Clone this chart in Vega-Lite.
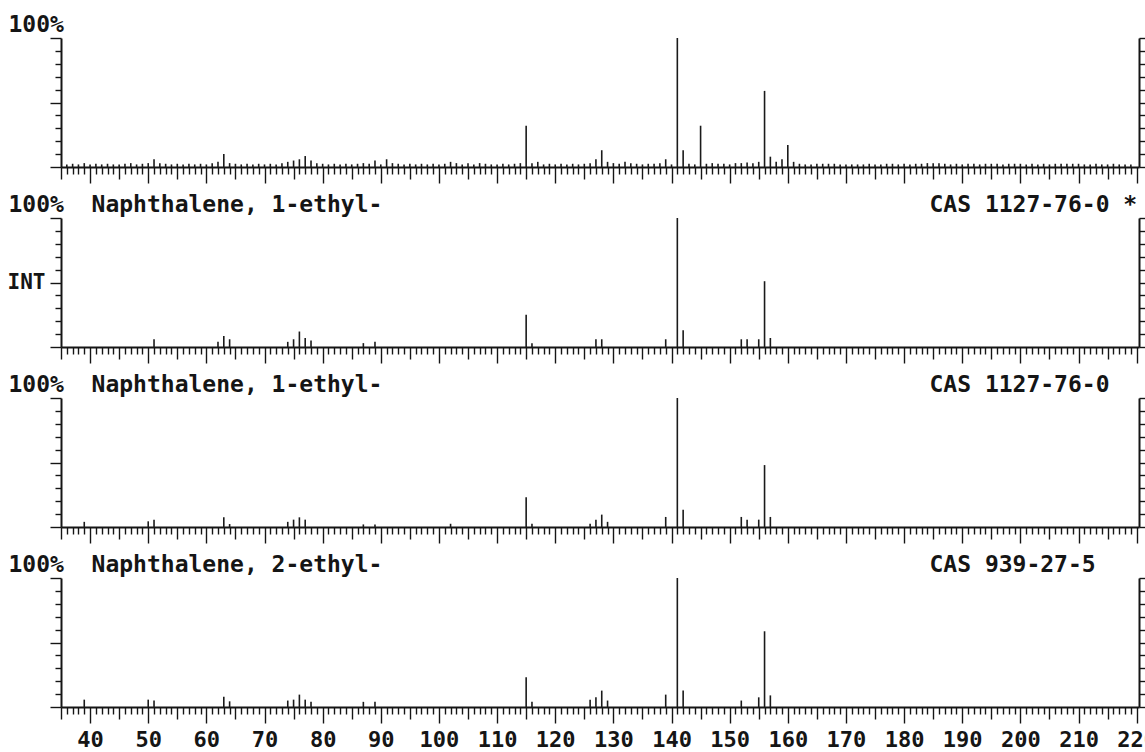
{
  "$schema": "https://vega.github.io/schema/vega-lite/v6.json",
  "background": "white",
  "padding": {"left": 7, "top": 13, "right": 0, "bottom": 0},
  "spacing": 51,
  "bounds": "flush",
  "config": {
    "view": {"stroke": null},
    "font": "DejaVu Sans Mono",
    "axis": {
      "grid": false,
      "domainColor": "#151515",
      "tickColor": "#151515",
      "labelColor": "#151515",
      "titleColor": "#151515",
      "labelFont": "DejaVu Sans Mono",
      "titleFont": "DejaVu Sans Mono",
      "labelFontWeight": "bold",
      "titleFontWeight": "bold",
      "domainWidth": 2,
      "tickWidth": 1.4
    }
  },
  "datasets": {
    "p1": [
      {"mz":36,"int":2},{"mz":37,"int":2.5},{"mz":38,"int":2},{"mz":39,"int":3},{"mz":40,"int":2},{"mz":41,"int":2.5},{"mz":42,"int":2},{"mz":43,"int":2.5},{"mz":44,"int":2},{"mz":45,"int":2},
      {"mz":46,"int":2.5},{"mz":47,"int":3},{"mz":48,"int":2},{"mz":49,"int":2.5},{"mz":50,"int":3},{"mz":51,"int":6},{"mz":52,"int":3},{"mz":53,"int":2.5},{"mz":54,"int":2},{"mz":55,"int":2.5},
      {"mz":56,"int":2},{"mz":57,"int":2.5},{"mz":58,"int":2},{"mz":59,"int":2.5},{"mz":60,"int":2},{"mz":61,"int":3},{"mz":62,"int":4},{"mz":63,"int":10},{"mz":64,"int":3},{"mz":65,"int":2.5},
      {"mz":66,"int":2},{"mz":67,"int":2.5},{"mz":68,"int":2},{"mz":69,"int":2.5},{"mz":70,"int":2},{"mz":71,"int":2.5},{"mz":72,"int":2},{"mz":73,"int":3},{"mz":74,"int":4},{"mz":75,"int":5},
      {"mz":76,"int":6},{"mz":77,"int":8.5},{"mz":78,"int":5},{"mz":79,"int":3},{"mz":80,"int":2.5},{"mz":81,"int":2},{"mz":82,"int":2.5},{"mz":83,"int":2},{"mz":84,"int":2.5},{"mz":85,"int":2},
      {"mz":86,"int":2.5},{"mz":87,"int":3},{"mz":88,"int":2.5},{"mz":89,"int":5},{"mz":90,"int":2},{"mz":91,"int":6},{"mz":92,"int":3},{"mz":93,"int":2.5},{"mz":94,"int":2},{"mz":95,"int":2.5},
      {"mz":96,"int":2},{"mz":97,"int":2.5},{"mz":98,"int":2},{"mz":99,"int":2.5},{"mz":100,"int":2},{"mz":101,"int":2.5},{"mz":102,"int":4},{"mz":103,"int":3},{"mz":104,"int":2},{"mz":105,"int":3},
      {"mz":106,"int":2},{"mz":107,"int":3},{"mz":108,"int":2.5},{"mz":109,"int":2},{"mz":110,"int":2},{"mz":111,"int":2.5},{"mz":112,"int":2},{"mz":113,"int":2.5},{"mz":114,"int":3},{"mz":115,"int":32},
      {"mz":116,"int":3},{"mz":117,"int":4},{"mz":118,"int":2},{"mz":119,"int":2.5},{"mz":120,"int":2},{"mz":121,"int":2.5},{"mz":122,"int":2},{"mz":123,"int":2.5},{"mz":124,"int":2},{"mz":125,"int":2.5},
      {"mz":126,"int":3},{"mz":127,"int":6},{"mz":128,"int":13},{"mz":129,"int":4},{"mz":130,"int":3},{"mz":131,"int":2.5},{"mz":132,"int":4},{"mz":133,"int":3},{"mz":134,"int":2.5},{"mz":135,"int":2},
      {"mz":136,"int":2.5},{"mz":137,"int":2.5},{"mz":138,"int":3},{"mz":139,"int":6},{"mz":140,"int":2},{"mz":141,"int":100},{"mz":142,"int":13},{"mz":143,"int":2.5},{"mz":144,"int":2},{"mz":145,"int":32},
      {"mz":146,"int":2.5},{"mz":147,"int":3},{"mz":148,"int":2.5},{"mz":149,"int":2.5},{"mz":150,"int":2},{"mz":151,"int":3},{"mz":152,"int":3},{"mz":153,"int":3.5},{"mz":154,"int":3},{"mz":155,"int":4},
      {"mz":156,"int":59},{"mz":157,"int":8},{"mz":158,"int":4},{"mz":159,"int":6},{"mz":160,"int":17},{"mz":161,"int":4},{"mz":162,"int":2.5},{"mz":163,"int":2},{"mz":164,"int":2},{"mz":165,"int":2.5},
      {"mz":166,"int":2.5},{"mz":167,"int":2.5},{"mz":168,"int":2.5},{"mz":169,"int":2},{"mz":170,"int":2},{"mz":171,"int":2},{"mz":172,"int":2},{"mz":173,"int":2},{"mz":174,"int":2.5},{"mz":175,"int":2},
      {"mz":176,"int":2},{"mz":177,"int":2.5},{"mz":178,"int":2.5},{"mz":179,"int":2},{"mz":180,"int":2.5},{"mz":181,"int":2},{"mz":182,"int":2.5},{"mz":183,"int":2.5},{"mz":184,"int":3},{"mz":185,"int":3},
      {"mz":186,"int":3},{"mz":187,"int":2.5},{"mz":188,"int":2},{"mz":189,"int":2.5},{"mz":190,"int":2},{"mz":191,"int":2.5},{"mz":192,"int":2.5},{"mz":193,"int":2},{"mz":194,"int":2.5},{"mz":195,"int":2.5},
      {"mz":196,"int":2.5},{"mz":197,"int":2},{"mz":198,"int":2.5},{"mz":199,"int":2.5},{"mz":200,"int":2.5},{"mz":201,"int":2},{"mz":202,"int":2.5},{"mz":203,"int":2},{"mz":204,"int":2.5},{"mz":205,"int":2},
      {"mz":206,"int":2.5},{"mz":207,"int":2.5},{"mz":208,"int":2.5},{"mz":209,"int":2.5},{"mz":210,"int":2.5},{"mz":211,"int":2},{"mz":212,"int":2},{"mz":213,"int":2.5},{"mz":214,"int":2},{"mz":215,"int":2},
      {"mz":216,"int":2.5},{"mz":217,"int":2},{"mz":218,"int":2},{"mz":219,"int":2}
    ],
    "p2": [
      {"mz":51,"int":6},{"mz":62,"int":4},{"mz":63,"int":8.5},{"mz":64,"int":6},{"mz":74,"int":4},{"mz":75,"int":6},{"mz":76,"int":12},{"mz":77,"int":7},{"mz":78,"int":5},{"mz":87,"int":3},{"mz":89,"int":4},
      {"mz":115,"int":25},{"mz":116,"int":3},{"mz":127,"int":6},{"mz":128,"int":6},{"mz":139,"int":6},{"mz":141,"int":100},{"mz":142,"int":13},{"mz":152,"int":6},{"mz":153,"int":6},{"mz":155,"int":6},{"mz":156,"int":51},{"mz":157,"int":7}
    ],
    "p3": [
      {"mz":39,"int":4},{"mz":50,"int":4.4},{"mz":51,"int":5.7},{"mz":63,"int":7.5},{"mz":64,"int":2.3},{"mz":74,"int":4},{"mz":75,"int":5.7},{"mz":76,"int":7.5},{"mz":77,"int":5.7},{"mz":87,"int":2},{"mz":89,"int":2},
      {"mz":102,"int":2.5},{"mz":115,"int":23},{"mz":116,"int":2.6},{"mz":126,"int":2.6},{"mz":127,"int":5.7},{"mz":128,"int":9.6},{"mz":129,"int":4},{"mz":139,"int":7.8},{"mz":141,"int":100},{"mz":142,"int":13.4},
      {"mz":152,"int":7.8},{"mz":153,"int":5.7},{"mz":155,"int":5.7},{"mz":156,"int":48},{"mz":157,"int":7.8}
    ],
    "p4": [
      {"mz":39,"int":5.7},{"mz":50,"int":5.7},{"mz":51,"int":5},{"mz":63,"int":8},{"mz":64,"int":4.4},{"mz":74,"int":5},{"mz":75,"int":5.7},{"mz":76,"int":9.6},{"mz":77,"int":5.7},{"mz":78,"int":4},{"mz":87,"int":4},{"mz":89,"int":4},
      {"mz":115,"int":23},{"mz":116,"int":4},{"mz":126,"int":5.7},{"mz":127,"int":7.5},{"mz":128,"int":12.7},{"mz":129,"int":5},{"mz":139,"int":9.6},{"mz":141,"int":100},{"mz":142,"int":12.7},
      {"mz":152,"int":5},{"mz":155,"int":7.5},{"mz":156,"int":58.7},{"mz":157,"int":9}
    ]
  },
  "vconcat": [
    {
      "width": 1078, "height": 129,
      "data": {"name": "p1"},
      "layer": [
        {
          "mark": {"type": "rule", "color": "#1a1a1a", "strokeWidth": 1.6},
          "encoding": {
            "x": {"field": "mz", "type": "quantitative", "scale": {"domain": [35, 220.4], "nice": false, "zero": false},
              "axis": {"orient": "bottom", "title": null, "labels": false, "domainWidth": 2,
                "values": [35,36,37,38,39,40,41,42,43,44,45,46,47,48,49,50,51,52,53,54,55,56,57,58,59,60,61,62,63,64,65,66,67,68,69,70,71,72,73,74,75,76,77,78,79,80,81,82,83,84,85,86,87,88,89,90,91,92,93,94,95,96,97,98,99,100,101,102,103,104,105,106,107,108,109,110,111,112,113,114,115,116,117,118,119,120,121,122,123,124,125,126,127,128,129,130,131,132,133,134,135,136,137,138,139,140,141,142,143,144,145,146,147,148,149,150,151,152,153,154,155,156,157,158,159,160,161,162,163,164,165,166,167,168,169,170,171,172,173,174,175,176,177,178,179,180,181,182,183,184,185,186,187,188,189,190,191,192,193,194,195,196,197,198,199,200,201,202,203,204,205,206,207,208,209,210,211,212,213,214,215,216,217,218,219,220],
                "tickSize": {"condition": [{"test": "datum.value % 10 === 0", "value": 16}, {"test": "datum.value % 5 === 0", "value": 12}], "value": 7}}},
            "y": {"field": "int", "type": "quantitative", "scale": {"domain": [0, 100], "nice": false},
              "axis": {"orient": "left", "values": [0,10,20,30,40,50,60,70,80,90,100], "labels": false,
                "tickSize": {"condition": {"test": "datum.value % 50 === 0", "value": 11}, "value": 6},
                "title": "100%", "titleAngle": 0, "titleAlign": "left", "titleBaseline": "alphabetic", "titleX": -53, "titleY": -7, "titleFontSize": 23}},
            "y2": {"datum": 0}
          }
        },
        {
          "mark": {"type": "rule", "opacity": 0},
          "encoding": {
            "y": {"field": "int", "type": "quantitative", "axis": {"orient": "right", "values": [0,10,20,30,40,50,60,70,80,90,100], "labels": false, "tickSize": 6, "title": null}},
            "y2": {"datum": 0}
          }
        }
      ],
      "resolve": {"axis": {"y": "independent"}}
    },
    {
      "width": 1078, "height": 129,
      "data": {"name": "p2"},
      "layer": [
        {
          "mark": {"type": "rule", "color": "#1a1a1a", "strokeWidth": 1.6},
          "encoding": {
            "x": {"field": "mz", "type": "quantitative", "scale": {"domain": [35, 220.4], "nice": false, "zero": false},
              "axis": {"orient": "bottom", "title": null, "labels": false, "domainWidth": 2,
                "values": [35,36,37,38,39,40,41,42,43,44,45,46,47,48,49,50,51,52,53,54,55,56,57,58,59,60,61,62,63,64,65,66,67,68,69,70,71,72,73,74,75,76,77,78,79,80,81,82,83,84,85,86,87,88,89,90,91,92,93,94,95,96,97,98,99,100,101,102,103,104,105,106,107,108,109,110,111,112,113,114,115,116,117,118,119,120,121,122,123,124,125,126,127,128,129,130,131,132,133,134,135,136,137,138,139,140,141,142,143,144,145,146,147,148,149,150,151,152,153,154,155,156,157,158,159,160,161,162,163,164,165,166,167,168,169,170,171,172,173,174,175,176,177,178,179,180,181,182,183,184,185,186,187,188,189,190,191,192,193,194,195,196,197,198,199,200,201,202,203,204,205,206,207,208,209,210,211,212,213,214,215,216,217,218,219,220],
                "tickSize": {"condition": [{"test": "datum.value % 10 === 0", "value": 16}, {"test": "datum.value % 5 === 0", "value": 12}], "value": 7}}},
            "y": {"field": "int", "type": "quantitative", "scale": {"domain": [0, 100], "nice": false},
              "axis": {"orient": "left", "values": [0,10,20,30,40,50,60,70,80,90,100],
                "labelExpr": "datum.value === 50 ? 'INT' : ''", "labelFontSize": 21, "labelPadding": 5, "labelBaseline": "middle",
                "tickSize": {"condition": {"test": "datum.value % 50 === 0", "value": 11}, "value": 6},
                "title": "100%\u00a0\u00a0Naphthalene, 1-ethyl-", "titleAngle": 0, "titleAlign": "left", "titleBaseline": "alphabetic", "titleX": -53, "titleY": -7, "titleFontSize": 23}},
            "y2": {"datum": 0}
          }
        },
        {
          "mark": {"type": "rule", "opacity": 0},
          "encoding": {
            "y": {"field": "int", "type": "quantitative", "axis": {"orient": "right", "values": [0,10,20,30,40,50,60,70,80,90,100], "labels": false, "tickSize": 6,
              "title": "CAS 1127-76-0 *", "titleAngle": 0, "titleAlign": "left", "titleBaseline": "alphabetic", "titleX": -210, "titleY": -7, "titleFontSize": 23}},
            "y2": {"datum": 0}
          }
        }
      ],
      "resolve": {"axis": {"y": "independent"}}
    },
    {
      "width": 1078, "height": 129,
      "data": {"name": "p3"},
      "layer": [
        {
          "mark": {"type": "rule", "color": "#1a1a1a", "strokeWidth": 1.6},
          "encoding": {
            "x": {"field": "mz", "type": "quantitative", "scale": {"domain": [35, 220.4], "nice": false, "zero": false},
              "axis": {"orient": "bottom", "title": null, "labels": false, "domainWidth": 2,
                "values": [35,36,37,38,39,40,41,42,43,44,45,46,47,48,49,50,51,52,53,54,55,56,57,58,59,60,61,62,63,64,65,66,67,68,69,70,71,72,73,74,75,76,77,78,79,80,81,82,83,84,85,86,87,88,89,90,91,92,93,94,95,96,97,98,99,100,101,102,103,104,105,106,107,108,109,110,111,112,113,114,115,116,117,118,119,120,121,122,123,124,125,126,127,128,129,130,131,132,133,134,135,136,137,138,139,140,141,142,143,144,145,146,147,148,149,150,151,152,153,154,155,156,157,158,159,160,161,162,163,164,165,166,167,168,169,170,171,172,173,174,175,176,177,178,179,180,181,182,183,184,185,186,187,188,189,190,191,192,193,194,195,196,197,198,199,200,201,202,203,204,205,206,207,208,209,210,211,212,213,214,215,216,217,218,219,220],
                "tickSize": {"condition": [{"test": "datum.value % 10 === 0", "value": 16}, {"test": "datum.value % 5 === 0", "value": 12}], "value": 7}}},
            "y": {"field": "int", "type": "quantitative", "scale": {"domain": [0, 100], "nice": false},
              "axis": {"orient": "left", "values": [0,10,20,30,40,50,60,70,80,90,100], "labels": false,
                "tickSize": {"condition": {"test": "datum.value % 50 === 0", "value": 11}, "value": 6},
                "title": "100%\u00a0\u00a0Naphthalene, 1-ethyl-", "titleAngle": 0, "titleAlign": "left", "titleBaseline": "alphabetic", "titleX": -53, "titleY": -7, "titleFontSize": 23}},
            "y2": {"datum": 0}
          }
        },
        {
          "mark": {"type": "rule", "opacity": 0},
          "encoding": {
            "y": {"field": "int", "type": "quantitative", "axis": {"orient": "right", "values": [0,10,20,30,40,50,60,70,80,90,100], "labels": false, "tickSize": 6,
              "title": "CAS 1127-76-0", "titleAngle": 0, "titleAlign": "left", "titleBaseline": "alphabetic", "titleX": -210, "titleY": -7, "titleFontSize": 23}},
            "y2": {"datum": 0}
          }
        }
      ],
      "resolve": {"axis": {"y": "independent"}}
    },
    {
      "width": 1078, "height": 129,
      "data": {"name": "p4"},
      "layer": [
        {
          "mark": {"type": "rule", "color": "#1a1a1a", "strokeWidth": 1.6},
          "encoding": {
            "x": {"field": "mz", "type": "quantitative", "scale": {"domain": [35, 220.4], "nice": false, "zero": false},
              "axis": {"orient": "bottom", "title": null, "domainWidth": 2,
                "labelExpr": "datum.value % 10 === 0 ? datum.label : ''", "labelFontSize": 22, "labelPadding": 6, "labelOverlap": false, "labelFlush": false,
                "values": [35,36,37,38,39,40,41,42,43,44,45,46,47,48,49,50,51,52,53,54,55,56,57,58,59,60,61,62,63,64,65,66,67,68,69,70,71,72,73,74,75,76,77,78,79,80,81,82,83,84,85,86,87,88,89,90,91,92,93,94,95,96,97,98,99,100,101,102,103,104,105,106,107,108,109,110,111,112,113,114,115,116,117,118,119,120,121,122,123,124,125,126,127,128,129,130,131,132,133,134,135,136,137,138,139,140,141,142,143,144,145,146,147,148,149,150,151,152,153,154,155,156,157,158,159,160,161,162,163,164,165,166,167,168,169,170,171,172,173,174,175,176,177,178,179,180,181,182,183,184,185,186,187,188,189,190,191,192,193,194,195,196,197,198,199,200,201,202,203,204,205,206,207,208,209,210,211,212,213,214,215,216,217,218,219,220],
                "tickSize": {"condition": [{"test": "datum.value % 10 === 0", "value": 16}, {"test": "datum.value % 5 === 0", "value": 12}], "value": 7}}},
            "y": {"field": "int", "type": "quantitative", "scale": {"domain": [0, 100], "nice": false},
              "axis": {"orient": "left", "values": [0,10,20,30,40,50,60,70,80,90,100], "labels": false,
                "tickSize": {"condition": {"test": "datum.value % 50 === 0", "value": 11}, "value": 6},
                "title": "100%\u00a0\u00a0Naphthalene, 2-ethyl-", "titleAngle": 0, "titleAlign": "left", "titleBaseline": "alphabetic", "titleX": -53, "titleY": -7, "titleFontSize": 23}},
            "y2": {"datum": 0}
          }
        },
        {
          "mark": {"type": "rule", "opacity": 0},
          "encoding": {
            "y": {"field": "int", "type": "quantitative", "axis": {"orient": "right", "values": [0,10,20,30,40,50,60,70,80,90,100], "labels": false, "tickSize": 6,
              "title": "CAS 939-27-5", "titleAngle": 0, "titleAlign": "left", "titleBaseline": "alphabetic", "titleX": -210, "titleY": -7, "titleFontSize": 23}},
            "y2": {"datum": 0}
          }
        }
      ],
      "resolve": {"axis": {"y": "independent"}}
    }
  ]
}
